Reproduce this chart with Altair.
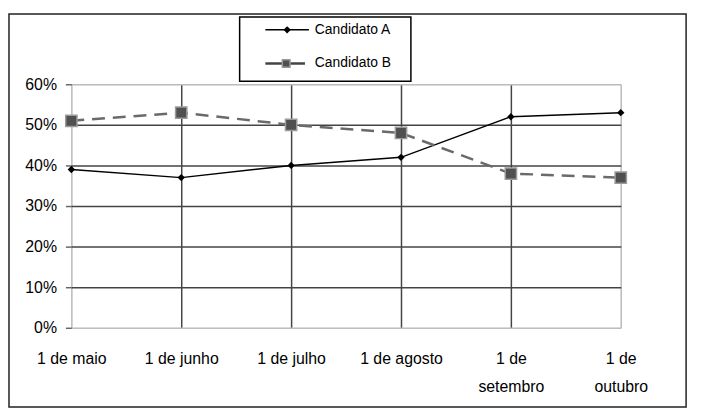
import altair as alt
import pandas as pd

categories = ["1 de maio", "1 de junho", "1 de julho", "1 de agosto", "1 de setembro", "1 de outubro"]
cand_a = [0.39, 0.37, 0.40, 0.42, 0.52, 0.53]
cand_b = [0.51, 0.53, 0.50, 0.48, 0.38, 0.37]
series_names = ["Candidato A", "Candidato B"]
y_ticks = [0, 0.1, 0.2, 0.3, 0.4, 0.5, 0.6]

df_a = pd.DataFrame({"data": categories, "valor": cand_a, "serie": series_names[0]})
df_b = pd.DataFrame({"data": categories, "valor": cand_b, "serie": series_names[1]})
one = pd.DataFrame({"k": [0]})

FONT = "Liberation Sans"

x_enc = alt.X("data:N", sort=categories, title=None,
              scale=alt.Scale(type="point", padding=0),
              axis=alt.Axis(
                  labelExpr="indexof(datum.label,'setembro')>=0 || indexof(datum.label,'outubro')>=0 ? ['1 de', slice(datum.label,5)] : datum.label",
                  labelAngle=0, labelFontSize=16, labelFont=FONT, labelColor="#000",
                  labelLineHeight=28, labelPadding=23, labelBaseline="top",
                  ticks=False, domain=False, grid=True,
                  gridColor={"condition": {"test": "datum.value == '1 de maio' || datum.value == '1 de outubro'", "value": "#bdbdbd"}, "value": "#444444"},
                  gridWidth=1.5))
y_enc = alt.Y("valor:Q", title=None,
              scale=alt.Scale(domain=[0, 0.6], nice=False, zero=True),
              axis=alt.Axis(values=y_ticks, format=".0%", labelFontSize=16, labelFont=FONT,
                            labelColor="#000", labelPadding=9, tickSize=6, tickColor="#666",
                            tickWidth=1.5, domain=False, grid=True,
                            gridColor={"condition": {"test": "datum.value <= 0.001 || datum.value >= 0.599", "value": "#bdbdbd"}, "value": "#444444"},
                            gridWidth=1.5))

frame = alt.Chart(one).mark_rect(fill=None, stroke="#222", strokeWidth=1.5).encode(
    x=alt.value(-63), x2=alt.value(621), y=alt.value(-71), y2=alt.value(326))

line_a = alt.Chart(df_a).mark_line(color="black", strokeWidth=1.5).encode(x=x_enc, y=y_enc)
pts_a = alt.Chart(df_a).mark_point(shape="diamond", filled=True, color="black", size=55, opacity=1).encode(
    x=alt.X("data:N", sort=categories), y="valor:Q")
line_b = alt.Chart(df_b).mark_line(color="#6a6a6a", strokeWidth=2.5, strokeDash=[13, 8]).encode(
    x=alt.X("data:N", sort=categories), y="valor:Q")
pts_b = alt.Chart(df_b).mark_point(shape="square", filled=True, fill="#505050", stroke="#9a9a9a",
                                   strokeWidth=1.5, size=130, opacity=1).encode(
    x=alt.X("data:N", sort=categories), y="valor:Q")

# legend
leg_box = alt.Chart(one).mark_rect(fill="white", stroke="black", strokeWidth=1.5).encode(
    x=alt.value(170), x2=alt.value(343), y=alt.value(-68), y2=alt.value(-3))
leg_la = alt.Chart(one).mark_rule(color="black", strokeWidth=1.5).encode(
    x=alt.value(196), x2=alt.value(240), y=alt.value(-55))
leg_pa = alt.Chart(one).mark_point(shape="diamond", filled=True, color="black", size=55, opacity=1).encode(
    x=alt.value(218), y=alt.value(-55))
leg_lb = alt.Chart(one).mark_rule(color="#444", strokeWidth=2.5).encode(
    x=alt.value(196), x2=alt.value(236), y=alt.value(-21))
leg_pb = alt.Chart(one).mark_point(shape="square", filled=True, fill="#505050", stroke="#9a9a9a",
                                   strokeWidth=1.5, size=60, opacity=1).encode(
    x=alt.value(217), y=alt.value(-21))
leg_df = pd.DataFrame({"serie": series_names, "yy": [-55, -21]})
leg_txt = alt.Chart(leg_df).mark_text(align="left", baseline="middle", fontSize=14, font=FONT, color="black").encode(
    x=alt.value(246), y=alt.Y("yy:Q", scale=None), text="serie:N")

chart = alt.layer(frame, line_a, pts_a, line_b, pts_b, leg_box, leg_la, leg_pa, leg_lb, leg_pb, leg_txt).properties(
    width=555, height=246,
    autosize=alt.AutoSizeParams(type="none"),
    padding={"left": 64, "top": 75, "right": 75, "bottom": 82},
).configure_view(stroke=None).configure(background="white")

chart.save("out.html", embed_options={"renderer": "svg", "actions": False})
